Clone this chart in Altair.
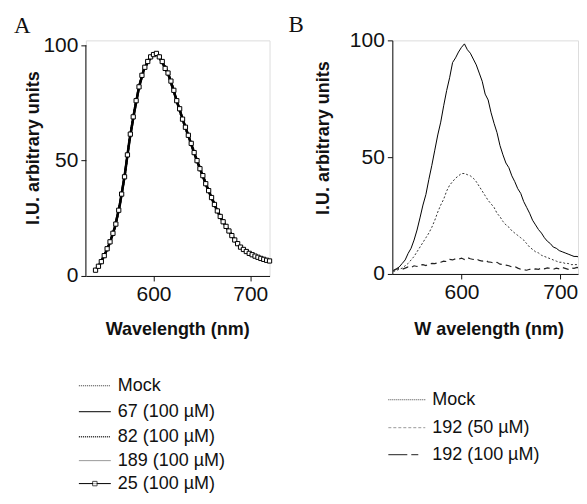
import altair as alt
import pandas as pd

# ---------------- data ----------------
# Panel A (5 nm readings for the line-only series)
wl_A5 = list(range(540, 721, 5))
mock_A = [2.5, 5.5, 9.8, 14.5, 21.0, 30.5, 43.0, 58.5, 71.0, 82.0, 89.5, 93.5, 96.0, 95.8, 92.0, 88.0,
          81.5, 74.5, 68.0, 62.0, 56.0, 50.0, 44.5, 39.0, 34.0, 29.2, 25.0, 21.5, 18.3, 15.0, 12.5, 11.0,
          9.8, 8.8, 7.8, 7.0, 6.5]
s67_A = [2.4, 5.3, 9.6, 14.8, 21.4, 30.9, 43.5, 58.2, 70.6, 81.6, 89.8, 94.0, 96.4, 95.4, 91.6, 87.6,
         81.0, 74.9, 68.4, 62.3, 55.6, 49.6, 44.1, 38.6, 33.7, 29.0, 24.8, 21.2, 18.1, 14.8, 12.4, 10.9,
         9.7, 8.7, 7.7, 6.9, 6.4]
s82_A = [2.6, 5.6, 10.0, 14.3, 20.8, 30.2, 42.6, 58.8, 71.4, 82.3, 89.2, 93.2, 95.8, 96.0, 92.3, 88.3,
         81.9, 74.2, 67.7, 61.8, 56.3, 50.3, 44.8, 39.3, 34.2, 29.5, 25.2, 21.7, 18.5, 15.2, 12.6, 11.1,
         9.9, 8.9, 7.9, 7.1, 6.6]
s189_A = [2.5, 5.4, 9.7, 14.6, 21.1, 30.6, 43.2, 58.4, 70.9, 81.9, 89.6, 93.6, 96.1, 95.6, 91.9, 87.9,
          81.4, 74.6, 68.1, 62.1, 55.9, 49.9, 44.4, 38.9, 33.9, 29.1, 24.9, 21.4, 18.2, 14.9, 12.5, 11.0,
          9.8, 8.8, 7.8, 7.0, 6.5]
# series with square markers (3 nm readings)
wl_A3 = list(range(540, 721, 3))
s25_A = [2.5, 4.2, 6.2, 8.8, 11.8, 14.8, 18.5, 22.5, 28.5, 35.5,
         43.0, 52.5, 61.5, 69.0, 76.0, 82.0, 87.0, 90.5, 93.0, 95.0,
         96.0, 96.5, 95.0, 93.0, 90.0, 88.0, 84.5, 80.5, 76.0, 72.5,
         68.0, 64.5, 61.0, 57.5, 53.5, 50.0, 46.5, 43.5, 40.0, 37.0,
         34.0, 31.0, 28.2, 25.8, 23.5, 21.5, 19.5, 17.5, 15.6, 14.0,
         12.5, 11.5, 10.6, 9.8, 9.2, 8.6, 8.1, 7.6, 7.2, 6.8, 6.5]
labels_A = ["Mock", "67 (100 \u00b5M)", "82 (100 \u00b5M)", "189 (100 \u00b5M)", "25 (100 \u00b5M)"]

# Panel B (3 nm readings)
wl_B = list(range(531, 721, 3))
mock_B = [1.5, 2.2, 3.0, 4.5, 6.0, 8.8, 11.0, 14.5, 18.8, 24.0,
          29.5, 34.0, 40.5, 46.5, 53.0, 59.5, 65.0, 72.0, 78.5, 84.0,
          90.5, 92.5, 95.0, 97.0, 98.5, 96.0, 94.5, 92.0, 89.5, 86.0,
          82.5, 77.0, 74.5, 69.0, 64.5, 60.5, 55.0, 51.0, 47.5, 45.5,
          42.0, 39.5, 36.5, 34.5, 31.0, 28.5, 26.0, 23.0, 21.0, 19.0,
          17.5, 15.5, 14.0, 13.0, 11.5, 11.0, 10.0, 9.5, 9.0, 8.5,
          8.0, 7.5, 7.5, 7.0]
b50_B = [1.0, 1.5, 2.0, 2.5, 3.5, 4.5, 6.0, 7.5, 9.5, 11.5,
         13.5, 15.5, 17.5, 20.0, 23.0, 26.5, 29.5, 32.0, 35.5, 38.0,
         39.5, 41.0, 42.0, 43.0, 43.0, 42.5, 42.0, 41.0, 39.5, 37.5,
         35.5, 33.5, 31.5, 30.0, 28.5, 26.0, 24.5, 22.5, 21.0, 20.0,
         18.5, 17.5, 16.5, 15.5, 14.5, 13.0, 11.5, 10.5, 9.5, 9.0,
         8.0, 7.5, 7.0, 6.5, 6.0, 5.5, 5.0, 5.0, 4.5, 4.5,
         4.0, 4.0, 4.0, 3.8]
b100_B = [1.5, 2.0, 2.5, 2.0, 2.5, 3.0, 2.8, 3.5, 3.2, 3.8,
          4.0, 3.6, 4.2, 4.5, 4.4, 4.8, 5.0, 5.5, 5.3, 6.2,
          6.0, 6.5, 6.3, 6.8, 6.2, 7.0, 6.5, 6.2, 6.5, 5.8,
          5.5, 5.9, 5.2, 5.0, 4.6, 5.0, 4.2, 4.0, 3.8, 3.5,
          3.0, 3.2, 2.5, 2.0, 1.8, 1.6, 2.0, 1.8, 2.2, 2.0,
          2.5, 2.2, 2.6, 2.4, 2.0, 2.5, 2.2, 2.8, 2.4, 2.0,
          2.6, 2.4, 2.8, 2.5]
labels_B = ["Mock", "192 (50 \u00b5M)", "192 (100 \u00b5M)"]

x_ticks = [600, 700]
y_ticks = [0, 50, 100]

# ---------------- styling ----------------
FONT = "Liberation Sans"
SERIF = "Liberation Serif"
INK = "#111111"

one = pd.DataFrame({"a": [0]})


def axes(domain_line=True):
    ax = alt.Axis(values=x_ticks, title=None, grid=False, labelFont=FONT, labelFontSize=21,
                  labelColor=INK, tickColor=INK, domainColor=INK, tickSize=5, labelPadding=3,
                  labelFlush=False)
    ay = alt.Axis(values=y_ticks, title=None, grid=False, labelFont=FONT, labelFontSize=21,
                  labelColor=INK, tickColor=INK, domainColor=INK, tickSize=5, labelPadding=3,
                  domain=domain_line)
    return ax, ay


def series(wl, vals, xs, ys, mark="line", domain_line=True, **kw):
    ax, ay = axes(domain_line)
    df = pd.DataFrame({"wl": wl, "v": vals})
    base = alt.Chart(df)
    m = base.mark_line(clip=True, **kw) if mark == "line" else base.mark_square(**kw)
    return m.encode(x=alt.X("wl:Q", scale=xs, axis=ax), y=alt.Y("v:Q", scale=ys, axis=ay))


def txt(s, x, y, size=18, weight="normal", font=FONT, align="left", angle=0):
    return alt.Chart(one).mark_text(text=s, font=font, fontSize=size, fontWeight=weight, color=INK,
                                    align=align, baseline="middle", angle=angle).encode(
        x=alt.value(x), y=alt.value(y))


def rule(x0, x1, y, **kw):
    return alt.Chart(one).mark_rule(**kw).encode(x=alt.value(x0), x2=alt.value(x1), y=alt.value(y))


# ---------------- panel A ----------------
WA, HA = 184, 236
xsA = alt.Scale(domain=[530, 720], nice=False, zero=False)
ysA = alt.Scale(domain=[0, 102.16], nice=False)
axA_x, axA_y = axes(False)

layersA = [
    # y axis line spanning 0..100 only
    alt.Chart(one).mark_rule(color=INK, strokeWidth=1).encode(
        x=alt.value(0),
        y=alt.Y(datum=100, scale=ysA, axis=axA_y),
        y2=alt.Y2(datum=0)),
    series(wl_A5, s189_A, xsA, ysA, domain_line=False, color="#888888", strokeWidth=2.6),
    series(wl_A5, mock_A, xsA, ysA, domain_line=False, color="#222222", strokeWidth=2.4),
    series(wl_A5, s67_A, xsA, ysA, domain_line=False, color="black", strokeWidth=2),
    series(wl_A5, s82_A, xsA, ysA, domain_line=False, color="black", strokeWidth=2, strokeDash=[2, 1]),
    series(wl_A3, s25_A, xsA, ysA, domain_line=False, color="black", strokeWidth=1.6),
    series(wl_A3, s25_A, xsA, ysA, mark="square", domain_line=False, filled=True, fill="white",
           stroke="black", strokeWidth=1, size=18, opacity=1),
    txt("A", -72, -14.5, size=23, font=SERIF),
    txt("I.U. arbitrary units", -52, 108, weight="bold", align="center", angle=270),
    txt("Wavelength (nm)", 92, 290, weight="bold", align="center"),
]
legA_y = [346, 372, 397, 421, 444]
legA_styles = [
    dict(color="#333333", strokeWidth=1, strokeDash=[1, 1]),
    dict(color="black", strokeWidth=1),
    dict(color="#222222", strokeWidth=1.5, strokeDash=[1, 1]),
    dict(color="#999999", strokeWidth=1),
    dict(color="black", strokeWidth=1),
]
for lab, yy, st in zip(labels_A, legA_y, legA_styles):
    layersA.append(rule(-7, 25, yy, **st))
    layersA.append(txt(lab, 32, yy))
layersA.append(alt.Chart(one).mark_square(filled=True, fill="white", stroke="black", strokeWidth=1,
                                          size=20).encode(x=alt.value(9), y=alt.value(legA_y[-1])))
panelA = alt.layer(*layersA).properties(width=WA, height=HA)

# ---------------- panel B ----------------
WB, HB = 186, 234
xsB = alt.Scale(domain=[530, 718], nice=False, zero=False)
ysB = alt.Scale(domain=[0, 100], nice=False)
layersB = [
    series(wl_B, mock_B, xsB, ysB, color="black", strokeWidth=1),
    series(wl_B, b50_B, xsB, ysB, color="#333333", strokeWidth=1, strokeDash=[2, 2]),
    series(wl_B, b100_B, xsB, ysB, color="#222222", strokeWidth=1.2, strokeDash=[6, 4]),
    txt("B", -104, -15.5, size=23, font=SERIF),
    txt("I.U. arbitrary units", -68.5, 98, weight="bold", align="center", angle=270),
    txt("W avelength (nm)", 97, 290, weight="bold", align="center"),
]
legB_y = [360, 388, 415]
legB_rules = [
    [(-4, 33, dict(color="#444444", strokeWidth=1, strokeDash=[1, 1]))],
    [(-4, 33, dict(color="#999999", strokeWidth=1, strokeDash=[3, 2]))],
    [(-4, 15, dict(color="#444444", strokeWidth=1.2)), (19, 26, dict(color="#444444", strokeWidth=1.2))],
]
for lab, yy, rl in zip(labels_B, legB_y, legB_rules):
    for x0, x1, st in rl:
        layersB.append(rule(x0, x1, yy, **st))
    layersB.append(txt(lab, 40, yy))
panelB = alt.layer(*layersB).properties(width=WB, height=HB)

chart = alt.hconcat(panelA, panelB, spacing=123, bounds="flush").properties(
    padding={"left": 5, "top": 5, "right": 0, "bottom": 0}
).configure_view(stroke=None).configure(background="white")

chart.save("out.html", embed_options={"renderer": "svg", "actions": False})
